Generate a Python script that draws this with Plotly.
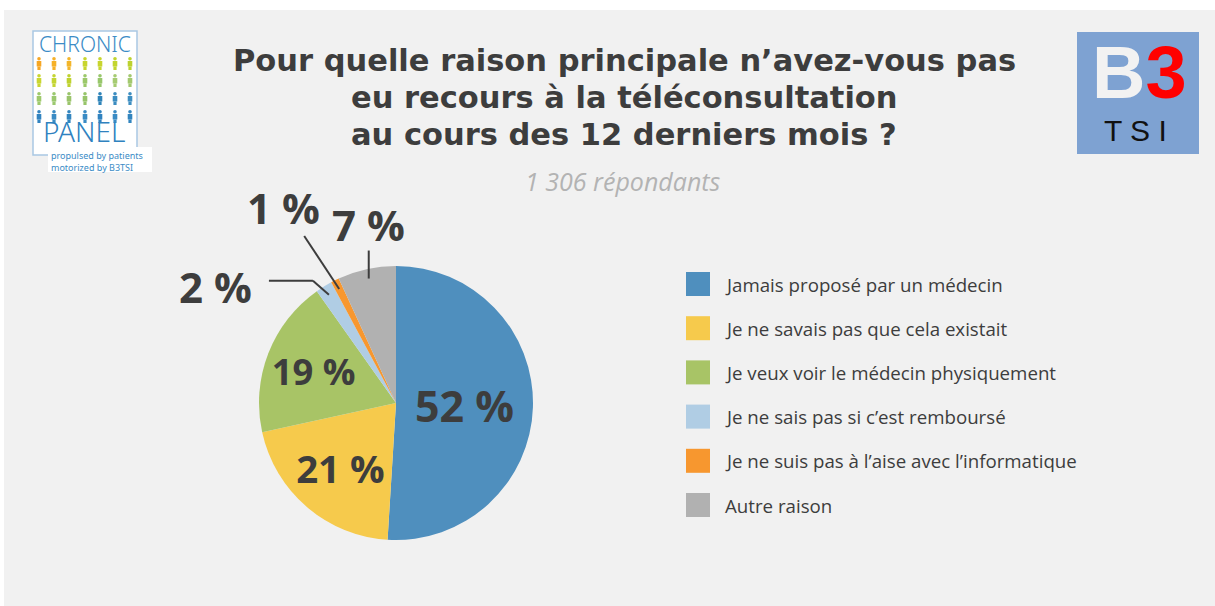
import math
import plotly.graph_objects as go

W, H = 1215, 606

# ---------------- data ----------------
categories = [
    "Jamais proposé par un médecin",
    "Je ne savais pas que cela existait",
    "Je veux voir le médecin physiquement",
    "Je ne sais pas si c’est remboursé",
    "Je ne suis pas à l’aise avec l’informatique",
    "Autre raison",
]
percentages = [52, 21, 19, 2, 1, 7]
colors = ["#4f8fbe", "#f6ca4c", "#a8c466", "#b0cde4", "#f7972f", "#b1b1b1"]

title_lines = [
    "Pour quelle raison principale n’avez-vous pas",
    "eu recours à la téléconsultation",
    "au cours des 12 derniers mois ?",
]
subtitle = "1 306 répondants"

# ---------------- style ----------------
DARK = "#3d3d3d"
FONT = "Open Sans"
pie_cx, pie_cy, pie_r = 396, 403, 137


def px(x):
    return x / W


def py(y):
    return 1 - y / H


fig = go.Figure()

fig.add_trace(go.Pie(
    labels=categories,
    values=percentages,
    marker=dict(colors=colors, line=dict(width=0)),
    sort=False,
    direction="clockwise",
    rotation=0,
    texttemplate="<b>%{value} %</b>",
    textposition=["inside", "inside", "inside", "none", "none", "none"],
    insidetextorientation="horizontal",
    textfont=dict(family=FONT, size=43, color=DARK),
    hoverinfo="label+value",
    showlegend=False,
    domain=dict(x=[px(pie_cx - pie_r), px(pie_cx + pie_r)],
                y=[py(pie_cy + pie_r), py(pie_cy - pie_r)]),
))

shapes = []
annotations = []

# background panel
shapes.append(dict(type="rect", xref="paper", yref="paper", layer="below",
                   x0=px(4), x1=1, y0=0, y1=py(10),
                   fillcolor="#f1f1f1", line=dict(width=0)))

# title
for i, line in enumerate(title_lines):
    annotations.append(dict(text="<b>" + line + "</b>", xref="paper", yref="paper",
                            x=px(624), y=py(61 + 36.5 * i), xanchor="center", yanchor="middle",
                            showarrow=False, borderpad=0,
                            font=dict(family="DejaVu Sans", size=30.5, color=DARK)))
annotations.append(dict(text="<i>" + subtitle + "</i>", xref="paper", yref="paper",
                        x=px(623), y=py(181), xanchor="center", yanchor="middle",
                        showarrow=False, font=dict(family=FONT, size=25, color="#b3b3b3")))

# leader lines + outside labels for the small slices (anchor computed from data)
total = sum(percentages)
starts = []
acc = 0
for v in percentages:
    starts.append(acc)
    acc += v

# per-slice: polyline offsets (px) from anchor, label offset from last point
leader = {
    3: dict(path=[(-16, -14), (-60, -14)], label=(-53, 6)),
    4: dict(path=[(-35, -53)], label=(-21, -28)),
    5: dict(path=[(0, -28)], label=(0, -26)),
}
for i, spec in leader.items():
    mid = (starts[i] + percentages[i] / 2) / total * 2 * math.pi
    ax = pie_cx + 0.93 * pie_r * math.sin(mid)
    ay = pie_cy - 0.93 * pie_r * math.cos(mid)
    pts = [(ax, ay)] + [(ax + dx, ay + dy) for dx, dy in spec["path"]]
    for (x0, y0), (x1, y1) in zip(pts[:-1], pts[1:]):
        shapes.append(dict(type="line", xref="paper", yref="paper",
                           x0=px(x0), y0=py(y0), x1=px(x1), y1=py(y1),
                           line=dict(color=DARK, width=2)))
    lx, ly = pts[-1][0] + spec["label"][0], pts[-1][1] + spec["label"][1]
    annotations.append(dict(text="<b>%d %%</b>" % percentages[i], xref="paper", yref="paper",
                            x=px(lx), y=py(ly), xanchor="center", yanchor="middle",
                            showarrow=False, font=dict(family=FONT, size=42, color=DARK)))

# legend (built from categories / colors)
for i, (lab, col) in enumerate(zip(categories, colors)):
    cy = 284 + 44.2 * i
    shapes.append(dict(type="rect", xref="paper", yref="paper",
                       x0=px(686), x1=px(710), y0=py(cy + 12), y1=py(cy - 12),
                       fillcolor=col, line=dict(width=0)))
    annotations.append(dict(text=lab, xref="paper", yref="paper",
                            x=px(723), y=py(cy), xanchor="left", yanchor="middle",
                            showarrow=False, font=dict(family=FONT, size=18.7, color=DARK)))

# ---------------- CHRONIC PANEL logo ----------------
LOGO_BLUE = "#3b8cc6"
shapes.append(dict(type="rect", xref="paper", yref="paper",
                   x0=px(33), x1=px(137), y0=py(155), y1=py(31),
                   fillcolor="white", line=dict(color="#a9c8e3", width=1.5)))
shapes.append(dict(type="rect", xref="paper", yref="paper",
                   x0=px(48), x1=px(152), y0=py(172), y1=py(147),
                   fillcolor="white", line=dict(width=0)))
annotations.append(dict(text="CHRONIC", xref="paper", yref="paper", x=px(85), y=py(44),
                        xanchor="center", yanchor="middle", showarrow=False,
                        font=dict(family="Noto Sans", size=21, color=LOGO_BLUE, weight=300)))
annotations.append(dict(text="PANEL", xref="paper", yref="paper", x=px(84), y=py(131),
                        xanchor="center", yanchor="middle", showarrow=False, borderpad=0,
                        font=dict(family="Noto Sans", size=28, color="#2f82bf", weight=300)))
annotations.append(dict(text="propulsed by patients", xref="paper", yref="paper", x=px(50), y=py(155.5),
                        xanchor="left", yanchor="middle", showarrow=False, borderpad=0,
                        font=dict(family="Noto Sans", size=9, color=LOGO_BLUE)))
annotations.append(dict(text="motorized by B3TSI", xref="paper", yref="paper", x=px(50), y=py(167.5),
                        xanchor="left", yanchor="middle", showarrow=False, borderpad=0,
                        font=dict(family="Noto Sans", size=9, color=LOGO_BLUE)))
people_colors = [
    ["#f6a623", "#f6b128", "#f3b52a", "#c8d52e", "#c8d52e", "#c3d52d", "#bcd230"],
    ["#c9d631", "#c4d534", "#bfd230", "#9cc86a", "#98c76b", "#a6cb72", "#a3c96f"],
    ["#9ec96c", "#9bc86f", "#9ac46b", "#97c46a", "#2f84b9", "#3b8cc0", "#3e8ec1"],
    ["#3183c0", "#3a8bc4", "#3385bf", "#3a8bc4", "#3183c0", "#3a8bc4", "#3385bf"],
]
col_x = [39, 54, 69, 85, 100, 115, 130]
row_y = [57, 74, 92, 110]
for r, rowc in enumerate(people_colors):
    for c, pc in enumerate(rowc):
        x, y = col_x[c], row_y[r]
        shapes.append(dict(type="circle", xref="paper", yref="paper",
                           x0=px(x - 1.8), x1=px(x + 1.8), y0=py(y + 3.6), y1=py(y),
                           fillcolor=pc, line=dict(width=0)))
        shapes.append(dict(type="rect", xref="paper", yref="paper",
                           x0=px(x - 2.3), x1=px(x + 2.3), y0=py(y + 9.5), y1=py(y + 4),
                           fillcolor=pc, line=dict(width=0)))
        shapes.append(dict(type="rect", xref="paper", yref="paper",
                           x0=px(x - 1.6), x1=px(x + 1.6), y0=py(y + 13), y1=py(y + 9.5),
                           fillcolor=pc, line=dict(width=0)))

# ---------------- B3 TSI logo ----------------
shapes.append(dict(type="rect", xref="paper", yref="paper",
                   x0=px(1077), x1=px(1199), y0=py(154), y1=py(32),
                   fillcolor="#7ea2d2", line=dict(width=0)))
annotations.append(dict(text="<b>B<span style='color:#ff0000'>3</span></b>", xref="paper", yref="paper",
                        x=px(1139), y=py(73), xanchor="center", yanchor="middle", showarrow=False,
                        font=dict(family="Liberation Sans", size=74, color="#f2f2f2")))
annotations.append(dict(text="T S I", xref="paper", yref="paper",
                        x=px(1135), y=py(130), xanchor="center", yanchor="middle", showarrow=False,
                        font=dict(family="Liberation Sans", size=30, color="#111111")))

fig.update_layout(
    width=W, height=H,
    margin=dict(l=0, r=0, t=0, b=0),
    paper_bgcolor="white",
    plot_bgcolor="white",
    shapes=shapes,
    annotations=annotations,
    showlegend=False,
)

fig.write_html("out.html")
